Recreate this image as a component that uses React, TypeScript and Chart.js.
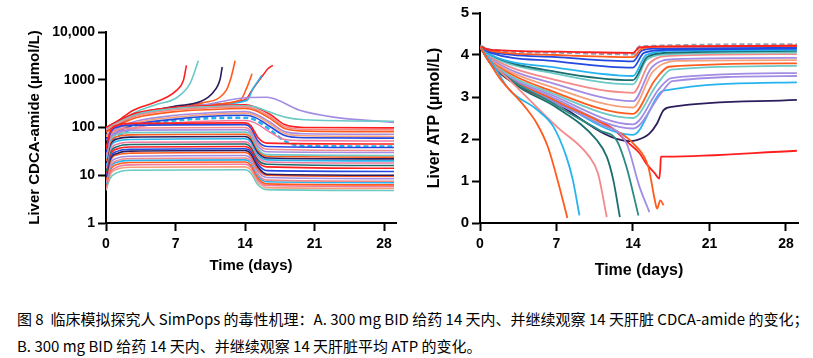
import React, { useEffect, useRef } from 'react';
import { Chart, registerables } from 'chart.js';

Chart.register(...registerables);

// ---------- shared ticks ----------
const dayTicks = [0, 7, 14, 21, 28];
const cdcaTicks = [1, 10, 100, 1000, 10000];
const atpTicks = [0, 1, 2, 3, 4, 5];

// ---------- Panel A: Liver CDCA-amide (µmol/L) ----------
// lower / middle population: fast rise, flat plateau, drop after day 14
const cdcaMidDays = [0, 0.4, 1.2, 2.5, 14, 14.6, 15.3, 16.2, 29];
const cdcaMid = [
  [35, 80, 112, 122, 125, 108, 62, 47, 45],
  [30, 72, 103, 112, 115, 98, 52, 40, 38],
  [28, 64, 90, 97, 100, 85, 46, 35, 33],
  [25, 58, 81, 88, 90, 77, 41, 31, 30],
  [22, 52, 72, 78, 80, 68, 36, 27, 26],
  [20, 47, 65, 70, 72, 61, 33, 25, 24],
  [18, 42, 58, 63, 65, 55, 30, 23, 22],
  [16, 38, 52, 56, 58, 49, 27, 21, 20],
  [14, 33, 45, 49, 50, 43, 24, 19, 18],
  [12, 29, 40, 44, 45, 38, 21, 17, 16],
  [11, 26, 36, 39, 40, 34, 19, 15, 14],
  [10, 23, 32, 35, 36, 31, 17, 12.5, 12],
  [9, 21, 29, 32, 33, 28, 15, 10.5, 10],
  [8, 19, 27, 29, 30, 25, 13.5, 10, 9.5],
  [7.5, 17, 23, 25, 26, 22, 12, 9, 8.5],
  [7, 15, 20.5, 22.5, 23, 19.5, 10.5, 7.9, 7.5],
  [6.5, 14, 19, 20.5, 21, 18, 9.8, 7.3, 7],
  [6, 12.5, 17, 18.5, 19, 16, 8.8, 6.6, 6.3],
  [5.5, 11, 15, 16.5, 17, 14.5, 8, 6.1, 5.8],
  [5, 10, 13.5, 14.7, 15, 12.8, 7.2, 5.5, 5.3],
  [4.8, 8.5, 11.5, 12.7, 13, 11, 6.3, 5, 4.8],
];
const cdcaMidColors = ['red', 'blue', 'salmon', 'lav', 'teal', 'orange', 'navy', 'lblue', 'pink', 'dteal', 'red',
  'blue', 'navy', 'orange', 'lav', 'salmon', 'lblue', 'orange', 'pink', 'lorange', 'teal'];

// upper population: keeps rising to day 14, slower decline
const cdcaUpperDays = [0, 1, 3, 7, 10, 14, 15, 16.5, 18, 20, 29];
const cdcaUpper = [
  [58, 78, 115, 150, 170, 180, 163, 105, 68, 61, 60],
  [55, 72, 100, 125, 135, 140, 125, 80, 56, 53, 52],
  [40, 62, 100, 140, 155, 160, 145, 90, 52, 41, 40],
  [65, 85, 125, 165, 185, 200, 180, 120, 75, 67, 65],
  [70, 92, 135, 180, 200, 215, 195, 130, 82, 74, 72],
  [80, 105, 160, 215, 235, 250, 228, 155, 95, 84, 82],
  [88, 115, 175, 235, 255, 270, 245, 170, 105, 92, 90],
  [90, 120, 185, 250, 270, 285, 270, 210, 165, 145, 135],
  [100, 130, 200, 265, 285, 300, 270, 190, 115, 100, 98],
];
const cdcaUpperColors = ['blue', 'pink', 'lblue', 'lorange', 'lav', 'orange', 'salmon', 'teal', 'red'];
const cdcaUpperDashed = [false, false, true, false, false, false, false, false, false];

// slowly declining subject
const cdcaSlowDays = [0, 1, 3, 7, 10, 14, 16.2, 19.5, 22.9, 29];
const cdcaSlow = [95, 125, 195, 260, 300, 420, 430, 230, 165, 128];

// subjects whose exposure escalates
const cdcaSpikeDays = [
  [0, 1, 2.75, 4.8, 6.1, 7.1, 7.8, 8.1],
  [0, 1, 3, 5, 7.1, 8.45, 9.3],
  [0, 1, 3, 7, 9.5, 10.8, 11.5, 11.7],
  [0, 1, 3, 7, 9.5, 12.1, 12.6, 13.0],
  [0, 1, 3, 7, 10, 13.5, 14.2, 14.7],
  [0, 1, 3, 7, 10, 14.2, 14.8, 15.7],
  [0, 1, 3, 7, 10, 14, 14.8, 15.8, 16.3, 16.8],
];
const cdcaSpike = [
  [100, 130, 230, 330, 430, 600, 980, 2000],
  [95, 125, 210, 300, 420, 830, 2500],
  [85, 110, 180, 280, 350, 550, 1050, 1850],
  [90, 120, 190, 270, 320, 600, 1130, 2500],
  [88, 115, 185, 265, 300, 370, 700, 1330],
  [85, 112, 180, 260, 300, 370, 650, 1240],
  [92, 120, 190, 268, 300, 380, 650, 1240, 1700, 2000],
];
const cdcaSpikeColors = ['red', 'teal', 'navy', 'orange', 'orange', 'lblue', 'red'];

// ---------- Panel B: Liver ATP (µmol/L) ----------
const atpRecDays = [
  [0, 1, 7, 14, 14.6, 16, 29],
  [0, 1, 7, 14, 14.8, 16.5, 29],
  [0, 1, 7, 14, 14.8, 16, 29],
  [0, 1, 7, 14, 15, 17, 29],
  [0, 1, 7, 14, 15.2, 17.5, 29],
  [0, 1, 7, 14, 15.3, 17, 29],
  [0, 1, 7, 14, 15.3, 17.5, 29],
  [0, 1, 7, 14, 15.5, 17.5, 29],
  [0, 1, 7, 14, 15.7, 17.8, 29],
  [0, 1, 7, 14, 15.8, 18, 29],
  [0, 1, 7, 14, 16, 17.3, 29],
  [0, 1, 7, 14, 16.2, 17.5, 29],
  [0, 1, 7, 14, 16.4, 17.5, 29],
  [0, 1, 7, 14, 16.6, 17.6, 29],
  [0, 1, 7, 14, 16.8, 29],
  [0, 1, 7, 13.7, 14.3, 15.5, 16.2, 16.8, 17.7, 29],
  [0, 1, 4, 7, 11.9, 13.6, 14.6, 15.2, 16, 16.4, 16.5, 16.55, 17.1, 29],
  [0, 1, 7, 14, 14.6, 29],
];
const atpRec = [
  [4.2, 4.12, 4.08, 4.05, 4.18, 4.2, 4.22],
  [4.2, 4.1, 4.0, 3.95, 4.15, 4.2, 4.22],
  [4.2, 4.08, 3.95, 3.85, 4.1, 4.15, 4.17],
  [4.2, 4.05, 3.85, 3.7, 4.05, 4.12, 4.15],
  [4.2, 4.0, 3.7, 3.5, 4.0, 4.1, 4.12],
  [4.2, 4.0, 3.6, 3.4, 3.95, 4.05, 4.1],
  [4.2, 3.98, 3.55, 3.3, 3.9, 4.02, 4.06],
  [4.2, 3.95, 3.4, 3.1, 3.8, 3.98, 4.02],
  [4.2, 3.92, 3.3, 2.9, 3.7, 3.9, 3.93],
  [4.2, 3.9, 3.2, 2.75, 3.6, 3.86, 3.88],
  [4.2, 3.88, 3.1, 2.6, 3.4, 3.72, 3.8],
  [4.2, 3.85, 3.05, 2.5, 3.3, 3.65, 3.74],
  [4.2, 3.83, 3.0, 2.35, 3.2, 3.45, 3.57],
  [4.2, 3.82, 2.95, 2.25, 3.1, 3.38, 3.5],
  [4.2, 3.8, 2.9, 2.1, 3.15, 3.35],
  [4.2, 3.78, 2.85, 1.95, 1.97, 2.13, 2.37, 2.69, 2.77, 2.93],
  [4.2, 3.78, 3.2, 2.85, 2.29, 1.9, 1.66, 1.42, 1.18, 1.06, 1.3, 1.58, 1.58, 1.72],
  [4.22, 4.12, 4.06, 4.02, 4.2, 4.25],
];
const atpRecColors = ['red', 'orange', 'blue', 'blue', 'lblue', 'dteal', 'teal', 'salmon', 'lav', 'lorange',
  'orange', 'teal', 'lav', 'lav', 'lblue', 'navy', 'red', 'slate'];
const atpRecDashed = [false, false, false, false, false, false, false, false, false, false,
  false, false, false, false, false, false, false, true];

const atpCrashDays = [
  [0, 1.8, 4.1, 5.2, 6.2, 7.1, 8.0],
  [0, 1, 2.7, 5.2, 6.7, 7.9, 8.5, 9.1],
  [0, 1, 3.5, 7, 10, 10.8, 11.6],
  [0, 1, 3.5, 7, 10.7, 11.6, 12.2, 12.8],
  [0, 1, 7, 11, 12.5, 13.4, 14.5],
  [0, 1, 7, 11, 13.4, 14.6, 15.5],
  [0, 1, 7, 11, 14.3, 15.4, 16, 16.2, 16.5, 16.8],
];
const atpCrash = [
  [4.2, 3.45, 2.77, 2.37, 1.82, 1.02, 0.12],
  [4.2, 3.85, 3.17, 2.7, 2.3, 1.58, 1.02, 0.18],
  [4.2, 3.85, 3.2, 2.3, 1.58, 1.18, 0.14],
  [4.2, 3.82, 3.25, 2.75, 1.97, 1.58, 1.02, 0.14],
  [4.2, 3.82, 2.8, 2.2, 1.97, 1.34, 0.18],
  [4.2, 3.8, 2.85, 2.35, 1.9, 0.86, 0.26],
  [4.2, 3.8, 2.9, 2.4, 1.82, 1.34, 0.54, 0.34, 0.54, 0.42],
];
const atpCrashColors = ['orange', 'lblue', 'salmon', 'dteal', 'gteal', 'lav', 'orange'];

// ---------- styling ----------
const PALETTE: Record<string, string> = {
  red: '#ff1f1f',
  teal: '#6cc9c5',
  navy: '#2c1d5c',
  orange: '#ff5b1c',
  lblue: '#27b4ee',
  salmon: '#f4898a',
  dteal: '#1c6e6e',
  gteal: '#2a8a80',
  lav: '#a38de4',
  blue: '#2448e0',
  lorange: '#f6a17c',
  pink: '#f17aa0',
  slate: '#8aa6c0',
};
const FONT = "'Liberation Sans', Arial, sans-serif";

function series(days: number[], vals: number[], color: string, dashed = false, width = 1.6) {
  return {
    data: days.map((d, i) => ({ x: d, y: vals[i] })),
    borderColor: PALETTE[color],
    borderWidth: dashed ? 2.6 : width,
    borderDash: dashed ? [5, 3] : [],
    pointRadius: 0,
    fill: false,
    cubicInterpolationMode: 'monotone' as const,
  };
}

function xAxis(max: number, titleSize: number, titlePad: number) {
  return {
    type: 'linear' as const,
    min: 0,
    max,
    afterBuildTicks: (s: any) => { s.ticks = dayTicks.map(v => ({ value: v })); },
    afterFit: (s: any) => { s.height = 67; },
    ticks: { color: '#000', font: { family: FONT, weight: 'bold' as const, size: 14 }, padding: 5, autoSkip: false, maxRotation: 0 },
    grid: { drawOnChartArea: false, drawTicks: true, tickLength: 8, tickColor: '#000', tickWidth: 2 },
    border: { color: '#000', width: 2 },
    title: { display: true, text: 'Time (days)', color: '#000', font: { family: FONT, weight: 'bold' as const, size: titleSize }, padding: { top: 0, bottom: titlePad } },
  };
}

function baseOptions(padding: any, scales: any) {
  return {
    responsive: false,
    animation: false as const,
    layout: { padding },
    plugins: { legend: { display: false }, tooltip: { enabled: false } },
    scales,
  };
}

function leftConfig(): any {
  const datasets: any[] = [];
  cdcaMid.forEach((v, i) => datasets.push(series(cdcaMidDays, v, cdcaMidColors[i])));
  cdcaUpper.forEach((v, i) => datasets.push(series(cdcaUpperDays, v, cdcaUpperColors[i], cdcaUpperDashed[i])));
  datasets.push(series(cdcaSlowDays, cdcaSlow, 'lav'));
  cdcaSpike.forEach((v, i) => datasets.push(series(cdcaSpikeDays[i], v, cdcaSpikeColors[i])));
  return {
    type: 'line',
    data: { datasets },
    options: baseOptions({ left: 0, right: 9, top: 32, bottom: 0 }, {
      x: xAxis(29.2, 15, 15),
      y: {
        type: 'logarithmic',
        min: 1,
        max: 10000,
        afterBuildTicks: (s: any) => { s.ticks = cdcaTicks.map(v => ({ value: v })); },
        afterFit: (s: any) => { s.width = 106; },
        ticks: {
          color: '#000', font: { family: FONT, weight: 'bold', size: 14 }, padding: 3, autoSkip: false,
          callback: (v: any) => (Number(v) === 10000 ? '10,000' : String(v)),
        },
        grid: { drawOnChartArea: false, drawTicks: true, tickLength: 8, tickColor: '#000', tickWidth: 2 },
        border: { color: '#000', width: 2 },
        title: { display: true, text: 'Liver CDCA-amide (µmol/L)', color: '#000', font: { family: FONT, weight: 'bold', size: 15 }, padding: { top: 26, bottom: 0 } },
      },
    }),
  };
}

function rightConfig(): any {
  const datasets: any[] = [];
  atpCrash.forEach((v, i) => datasets.push(series(atpCrashDays[i], v, atpCrashColors[i], false, 1.8)));
  atpRec.forEach((v, i) => datasets.push(series(atpRecDays[i], v, atpRecColors[i], atpRecDashed[i], 1.8)));
  return {
    type: 'line',
    data: { datasets },
    options: baseOptions({ left: 0, right: 15, top: 13, bottom: 0 }, {
      x: xAxis(29.1, 16, 10),
      y: {
        type: 'linear',
        min: 0,
        max: 5,
        afterBuildTicks: (s: any) => { s.ticks = atpTicks.map(v => ({ value: v })); },
        afterFit: (s: any) => { s.width = 75; },
        ticks: { color: '#000', font: { family: FONT, weight: 'bold', size: 15 }, padding: 3, autoSkip: false },
        grid: { drawOnChartArea: false, drawTicks: true, tickLength: 8, tickColor: '#000', tickWidth: 2 },
        border: { color: '#000', width: 2 },
        title: { display: true, text: 'Liver ATP (µmol/L)', color: '#000', font: { family: FONT, weight: 'bold', size: 16 }, padding: { top: 20, bottom: 0 } },
      },
    }),
  };
}

const captionLines = [
  '图 8  临床模拟探究人 SimPops 的毒性机理：A. 300 mg BID 给药 14 天内、并继续观察 14 天肝脏 CDCA-amide 的变化；',
  'B. 300 mg BID 给药 14 天内、并继续观察 14 天肝脏平均 ATP 的变化。',
];

export default function App() {
  const leftRef = useRef<HTMLCanvasElement>(null);
  const rightRef = useRef<HTMLCanvasElement>(null);
  useEffect(() => {
    const c1 = new Chart(leftRef.current as HTMLCanvasElement, leftConfig());
    const c2 = new Chart(rightRef.current as HTMLCanvasElement, rightConfig());
    return () => { c1.destroy(); c2.destroy(); };
  }, []);
  return (
    <div style={{ position: 'fixed', left: 0, top: 0, width: 813, height: 358, background: '#fff', overflow: 'hidden' }}>
      <canvas ref={leftRef} width={405} height={290} style={{ position: 'absolute', left: 0, top: 0, width: 405, height: 290 }} />
      <canvas ref={rightRef} width={408} height={290} style={{ position: 'absolute', left: 405, top: 0, width: 408, height: 290 }} />
      <div style={{ position: 'absolute', left: 17, top: 305, fontFamily: "'Noto Sans CJK SC', 'Noto Sans', sans-serif", fontSize: 15, lineHeight: '27px', color: '#000', whiteSpace: 'pre' }}>
        {captionLines.map((t, i) => <div key={i}>{t}</div>)}
      </div>
    </div>
  );
}
